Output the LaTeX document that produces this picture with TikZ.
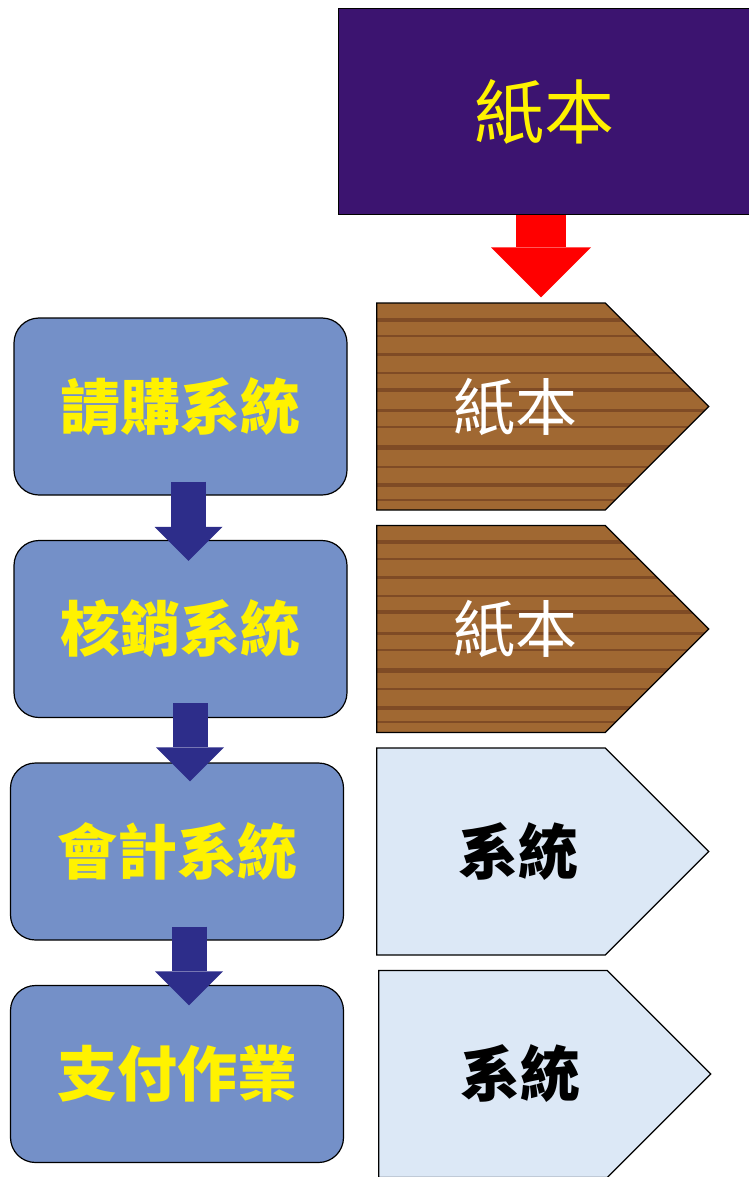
\documentclass[tikz,border=0pt]{standalone}
\usepackage{fontspec}
\setmainfont{Noto Sans CJK TC}
\usepackage{tikz}
\usetikzlibrary{arrows.meta}
\usetikzlibrary{shapes.symbols}
\usetikzlibrary{calc}

\definecolor{purplefelt}{RGB}{60,20,112}
\definecolor{bluecloth}{RGB}{116,144,200}
\definecolor{woodbrown}{RGB}{160,104,50}
\definecolor{woodgrain}{RGB}{100,52,28}
\definecolor{paleblue}{RGB}{220,232,246}
\definecolor{navyarrow}{RGB}{45,45,138}

\begin{document}
\begin{tikzpicture}[x=1pt,y=-1pt,inner sep=0pt,node distance=222.5pt,
  sysbox/.style={draw,line width=1.2pt,fill=bluecloth,rounded corners=25pt,minimum width=333pt,minimum height=177pt,text=yellow,font=\bfseries\fontsize{60}{62}\selectfont},
  sigtag/.style={draw,line width=1.2pt,signal,signal to=east,signal pointer angle=90,minimum width=332pt,minimum height=207pt},
  woodtag/.style={sigtag,fill=woodbrown,path picture={
    \foreach \f/\w in {0.05/2,0.12/4,0.21/2,0.3/5,0.4/2,0.48/3,0.58/4,0.66/2,0.75/3,0.84/2,0.92/4}
      \draw [woodgrain,line width=\w pt,opacity=.55] ($ (path picture bounding box.south west)!\f!(path picture bounding box.north west) $) -- ++(400pt,0);}},
  papertag/.style={sigtag,fill=paleblue},
  flowarrow/.style={line width=35pt,navyarrow,-{Triangle[width=68pt,length=34pt,line width=0pt]}}]
\useasboundingbox (0,0) rectangle (748,1177);
\node [draw,line width=1.2pt,fill=purplefelt,minimum width=412pt,minimum height=206pt,anchor=north west,text=yellow,font=\fontsize{70}{72}\selectfont] (T) at (338,8) {紙本};
% left column
\node [sysbox] (B1) at (180.5,406.5) {請購系統};
\node [sysbox] [below of=B1] (B2) {核銷系統};
\node [sysbox] [below of=B2,xshift=-3.5pt] (B3) {會計系統};
\node [sysbox] [below of=B3] (B4) {支付作業};
% right column
\node [woodtag] (P1) at (491,406.5) {};
\node [woodtag] [below of=P1] (P2) {};
\node [papertag] [below of=P2] (P3) {};
\node [papertag] [below of=P3,xshift=2pt] (P4) {};
\node [text=white,font=\fontsize{62}{64}\selectfont] (L1) at ([xshift=24pt]P1.center) {紙本};
\node [text=white,font=\fontsize{62}{64}\selectfont] (L2) at ([xshift=24pt]P2.center) {紙本};
\node [font=\bfseries\fontsize{60}{62}\selectfont] (L3) at ([xshift=27pt]P3.center) {系統};
\node [font=\bfseries\fontsize{60}{62}\selectfont] (L4) at ([xshift=27pt]P4.center) {系統};
% arrows
\draw [line width=50pt,red,-{Triangle[width=100pt,length=50pt,line width=0pt]},shorten >=5pt] ([xshift=50pt]T.south -| P1.north) -- ([xshift=50pt]P1.north);
\draw [flowarrow] ([xshift=8pt,yshift=14pt]B1.south) -- ([xshift=8pt,yshift=-21pt]B2.north);
\draw [flowarrow] ([xshift=9.5pt,yshift=15pt]B2.south) -- ([xshift=13pt,yshift=-19pt]B3.north);
\draw [flowarrow] ([xshift=12pt,yshift=14pt]B3.south) -- ([xshift=12pt,yshift=-20.5pt]B4.north);
\end{tikzpicture}
\end{document}
